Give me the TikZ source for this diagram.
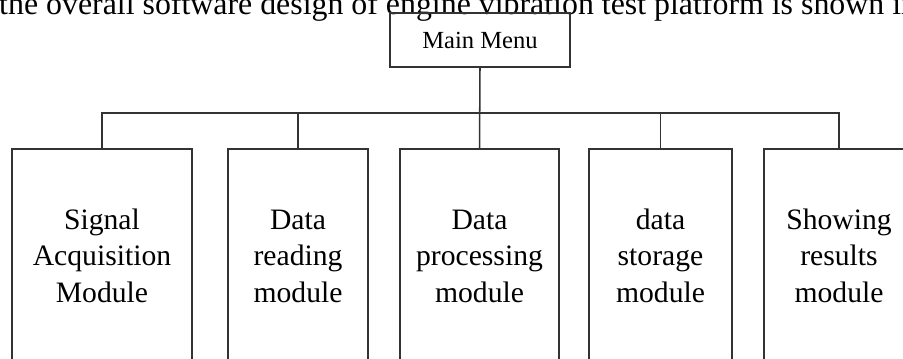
\documentclass[tikz,border=0pt]{standalone}
\usepackage{fontspec}
\setmainfont{Liberation Serif}
\usetikzlibrary{positioning}

\tikzset{
  menubox/.style={rectangle,draw=black!80,line width=1.5pt,minimum width=5.4cm,minimum height=1.62cm,inner sep=0pt,font=\fontsize{21}{25}\selectfont},
  modbox/.style={rectangle,draw=black!80,line width=1.3pt,minimum height=6.57cm,inner sep=0pt,align=center,font=\fontsize{25.3}{31.2}\selectfont},
  bus/.style={draw=black!80,line width=1.3pt}
}

\begin{document}
\begin{tikzpicture}[x=0.03cm,y=-0.03cm]
\useasboundingbox (0,0) rectangle (903,358);
\clip (0,0) rectangle (903,358);
\fill[white] (0,0) rectangle (903,358);

\node[anchor=base west,inner sep=0pt,font=\fontsize{27.2}{30}\selectfont] (caption) at (-1,14) {the overall software design of engine vibration test platform is shown in};

\node[menubox] (menu) at (480,40) {Main Menu};

\node[modbox,minimum width=5.4cm] (sig) at (102,258.5) {\strut Signal\\\strut Acquisition\\\strut Module};
\node[modbox,minimum width=4.2cm] (read) at (298,258.5) {\strut Data\\\strut reading\\\strut module};
\node[modbox,minimum width=4.77cm] (proc) at (479.5,258.5) {\strut Data\\\strut processing\\\strut module};
\node[modbox,minimum width=4.29cm] (stor) at (660.5,258.5) {\strut data\\\strut storage\\\strut module};
\node[modbox,minimum width=4.5cm] (show) at (839,258.5) {\strut Showing\\\strut results\\\strut module};

\coordinate (split) at (480,113);
\draw[bus] (menu.south) -- (proc.north);
\draw[bus] (sig.north) -- (sig.north |- split) -- (show.north |- split) -- (show.north);
\draw[bus] (read.north) -- (read.north |- split);
\draw[bus] (stor.north) -- (stor.north |- split);

\end{tikzpicture}
\end{document}
